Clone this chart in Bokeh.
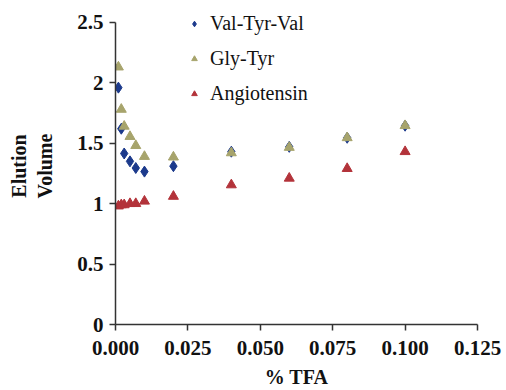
from bokeh.plotting import figure
from bokeh.models import Range1d, FixedTicker, NumeralTickFormatter, Legend, LegendItem
from bokeh.embed import file_html
from bokeh.resources import INLINE

tfa = [0.001, 0.002, 0.003, 0.005, 0.007, 0.010, 0.020, 0.040, 0.060, 0.080, 0.100]
val_tyr_val = [1.96, 1.62, 1.415, 1.35, 1.295, 1.265, 1.31, 1.43, 1.47, 1.545, 1.645]
gly_tyr = [2.13, 1.78, 1.64, 1.555, 1.48, 1.39, 1.385, 1.42, 1.465, 1.545, 1.645]
angiotensin = [0.98, 0.99, 0.99, 1.0, 1.0, 1.02, 1.06, 1.155, 1.21, 1.29, 1.43]
series_names = ["Val-Tyr-Val", "Gly-Tyr", "Angiotensin"]
x_ticks = [0.0, 0.025, 0.05, 0.075, 0.1, 0.125]
y_ticks = [0.0, 0.5, 1.0, 1.5, 2.0, 2.5]

FONT = "serif"

p = figure(width=506, height=390, output_backend="svg", toolbar_location=None,
           x_range=Range1d(0, 0.125), y_range=Range1d(0, 2.623),
           min_border_left=115, min_border_right=29, min_border_top=7, min_border_bottom=63)
p.outline_line_color = None
p.xgrid.visible = False
p.ygrid.visible = False

r1 = p.scatter(tfa, val_tyr_val, marker="diamond", size=11, fill_color="#1C3A8C", line_color="#1C3A8C")
r2 = p.scatter(tfa, gly_tyr, marker="triangle", size=10, fill_color="#A7A46C", line_color="#A7A46C")
r3 = p.scatter(tfa, angiotensin, marker="triangle", size=10, fill_color="#B3333A", line_color="#B3333A")

for ax in (p.xaxis[0], p.yaxis[0]):
    ax.axis_line_color = "#333333"
    ax.axis_line_width = 1.5
    ax.major_tick_line_color = "#333333"
    ax.major_tick_line_width = 1.5
    ax.major_tick_out = 6
    ax.major_tick_in = 0
    ax.minor_tick_line_color = None
    ax.major_label_text_font = FONT
    ax.major_label_text_font_style = "bold"
    ax.major_label_text_font_size = "21px"
    ax.major_label_text_color = "#111111"
    ax.axis_label_text_font = FONT
    ax.axis_label_text_font_style = "bold"
    ax.axis_label_text_font_size = "20px"
    ax.axis_label_text_color = "#111111"

p.xaxis.ticker = FixedTicker(ticks=x_ticks)
p.xaxis.formatter = NumeralTickFormatter(format="0.000")
p.yaxis.ticker = FixedTicker(ticks=y_ticks)
p.yaxis.formatter = NumeralTickFormatter(format="0.[0]")
p.yaxis.bounds = (0, 2.5)
p.xaxis.axis_label = "% TFA"
p.yaxis.axis_label = "Elution\nVolume"
p.xaxis.major_label_standoff = 10
p.xaxis.axis_label_standoff = 8
p.yaxis.major_label_standoff = 6
p.yaxis.axis_label_standoff = 18

legend = Legend(items=[LegendItem(label=series_names[0], renderers=[r1]),
                       LegendItem(label=series_names[1], renderers=[r2]),
                       LegendItem(label=series_names[2], renderers=[r3])],
                location=(72, 213), orientation="vertical")
legend.background_fill_alpha = 0
legend.border_line_color = None
legend.padding = 0
legend.margin = 0
legend.spacing = 0
legend.glyph_width = 14
legend.glyph_height = 35
legend.label_height = 35
legend.label_standoff = 9
legend.label_text_font = FONT
legend.label_text_font_size = "20px"
legend.label_text_color = "#111111"
p.add_layout(legend)

open("out.html", "w").write(file_html(p, INLINE))
